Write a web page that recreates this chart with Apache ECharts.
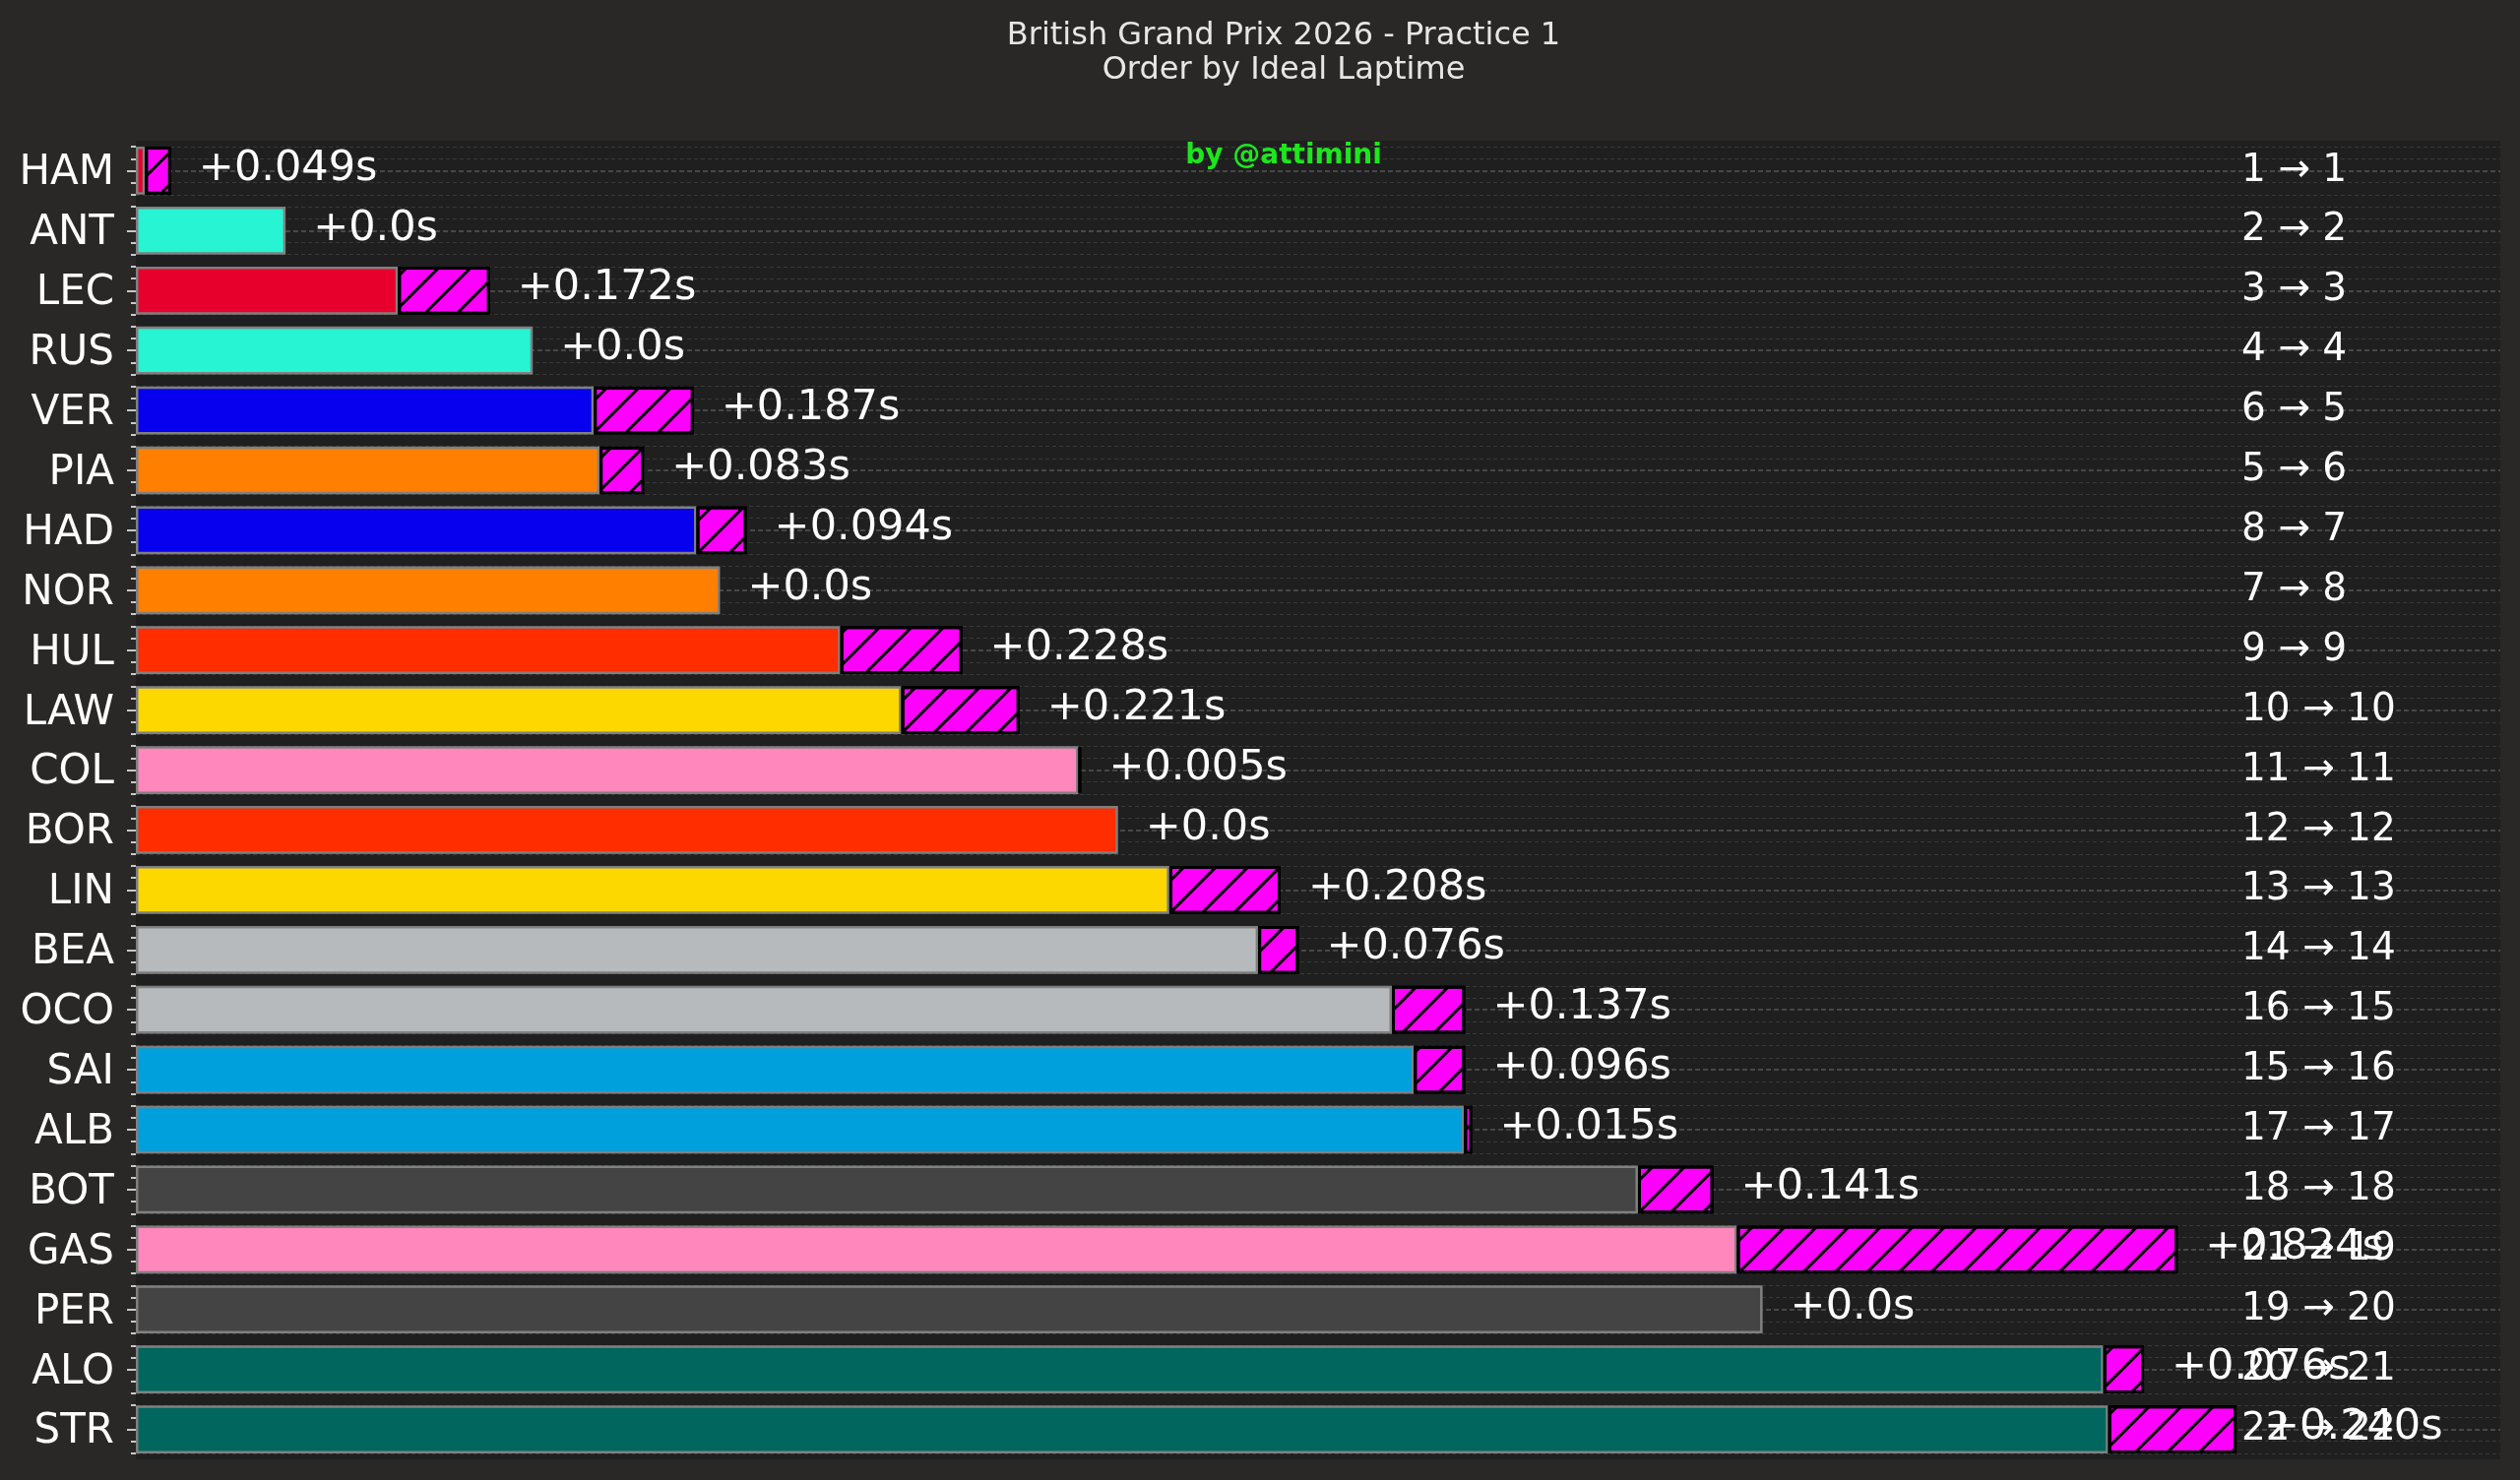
<!DOCTYPE html>
<html>
<head>
<meta charset="utf-8">
<script src="https://cdn.jsdelivr.net/npm/echarts@6/dist/echarts.min.js"></script>
<style>
html, body { margin: 0; padding: 0; background: #292827; }
#chart { width: 2560px; height: 1504px; }
</style>
</head>
<body>
<div id="chart"></div>
<script>
// drivers in order of ideal lap time
var drivers = ['HAM', 'ANT', 'LEC', 'RUS', 'VER', 'PIA', 'HAD', 'NOR', 'HUL', 'LAW', 'COL',
    'BOR', 'LIN', 'BEA', 'OCO', 'SAI', 'ALB', 'BOT', 'GAS', 'PER', 'ALO', 'STR'];
var teamColors = ['#e8002d', '#27f4d2', '#e8002d', '#27f4d2', '#0600ef', '#ff8000', '#0600ef',
    '#ff8000', '#ff2d00', '#fcd700', '#ff87bc', '#ff2d00', '#fcd700', '#b6babd', '#b6babd',
    '#00a0dd', '#00a0dd', '#444444', '#ff87bc', '#444444', '#00665e', '#00665e'];
// ideal lap (bar length, s) and gap best lap - ideal lap (s)
var idealGap = [0.017, 0.280, 0.490, 0.742, 0.856, 0.867, 1.048, 1.092, 1.317, 1.431, 1.762,
    1.836, 1.932, 2.098, 2.348, 2.389, 2.483, 2.808, 2.993, 3.041, 3.678, 3.687];
var delta = [0.049, 0.0, 0.172, 0.0, 0.187, 0.083, 0.094, 0.0, 0.228, 0.221, 0.005,
    0.0, 0.208, 0.076, 0.137, 0.096, 0.015, 0.141, 0.824, 0.0, 0.076, 0.240];
// position by best lap
var bestRank = [1, 2, 3, 4, 6, 5, 8, 7, 9, 10, 11, 12, 13, 14, 16, 15, 17, 18, 21, 19, 20, 22];

var FONT = 'DejaVu Sans';
var T = 'rgba(0,0,0,0)';
var gridTop = 143, gridBottom = 21;

var chart = echarts.init(document.getElementById('chart'));

var option = {
    backgroundColor: '#292827',
    animation: false,
    title: [
        {
            text: 'British Grand Prix 2026 - Practice 1\nOrder by Ideal Laptime',
            left: 1299,
            top: 14,
            textAlign: 'center',
            textStyle: { color: '#e6e6e6', fontSize: 32, fontWeight: 'normal', lineHeight: 35, fontFamily: FONT }
        },
        {
            text: 'by @attimini',
            left: 1299,
            top: 139,
            textAlign: 'center',
            z: 10,
            textStyle: { color: '#1ee61e', fontSize: 28, fontWeight: 'bold', lineHeight: 30, fontFamily: FONT }
        }
    ],
    grid: [
        { left: 138, right: 20, top: gridTop, bottom: gridBottom, show: true, backgroundColor: '#1f1f1f', borderWidth: 0 },
        // narrow strip for the minor ticks
        { left: 133, width: 5, top: gridTop, bottom: gridBottom, show: false }
    ],
    xAxis: [
        { gridIndex: 0, type: 'value', min: 0, max: 4.42, show: false },
        { gridIndex: 1, type: 'value', min: 0, max: 1, show: false }
    ],
    yAxis: [
        {
            gridIndex: 0,
            type: 'category',
            data: drivers,
            inverse: true,
            axisLine: { show: false },
            axisTick: { show: true, alignWithLabel: true, length: 9, lineStyle: { color: '#c8c8c8', width: 2 } },
            axisLabel: { color: '#ffffff', fontSize: 42, fontFamily: FONT, margin: 22, verticalAlign: 'top', lineHeight: 6 },
            splitLine: { show: false }
        },
        {
            gridIndex: 0,
            type: 'category',
            data: drivers,
            inverse: true,
            position: 'right',
            axisLine: { show: false },
            axisTick: { show: false },
            axisLabel: {
                inside: true,
                align: 'left',
                margin: 263,
                padding: [0, 0, 8, 0],
                color: '#ffffff',
                fontSize: 39,
                fontFamily: FONT,
                formatter: function (val, idx) { return bestRank[idx] + ' \u2192 ' + (idx + 1); }
            },
            splitLine: { show: false }
        },
        {
            // major grid through the row centres
            gridIndex: 0, type: 'value', min: -0.5, max: 21.5, interval: 0.5,
            axisLine: { show: false }, axisTick: { show: false }, axisLabel: { show: false },
            splitLine: { show: true, lineStyle: { color: [T, '#555555'], width: 1.6, type: [5, 3] } }
        },
        {
            // minor grid, every 0.2 row
            gridIndex: 0, type: 'value', min: -0.5, max: 21.5, interval: 0.1,
            axisLine: { show: false }, axisTick: { show: false }, axisLabel: { show: false },
            splitLine: { show: true, lineStyle: { color: [T, '#393939', T, '#393939', T, T, T, '#393939', T, '#393939'], width: 1.2, type: [4, 3] } }
        },
        {
            // minor ticks drawn as short lines in the strip
            gridIndex: 1, type: 'value', min: -0.5, max: 21.5, interval: 0.1,
            axisLine: { show: false }, axisTick: { show: false }, axisLabel: { show: false },
            splitLine: { show: true, lineStyle: { color: [T, '#c8c8c8', T, '#c8c8c8', T, T, T, '#c8c8c8', T, '#c8c8c8'], width: 2 } }
        }
    ],
    series: [
        {
            name: 'Ideal',
            type: 'bar',
            stack: 'lap',
            barWidth: '80%',
            xAxisIndex: 0,
            yAxisIndex: 0,
            z: 3,
            data: idealGap.map(function (v, i) {
                return { value: v, itemStyle: { color: teamColors[i] } };
            }),
            itemStyle: { borderColor: '#808080', borderWidth: 2.5 }
        },
        {
            name: 'Gap',
            type: 'bar',
            stack: 'lap',
            barWidth: '80%',
            xAxisIndex: 0,
            yAxisIndex: 0,
            z: 4,
            data: delta.map(function (v) {
                return v === 0 ? { value: v, itemStyle: { borderWidth: 0 } } : v;
            }),
            itemStyle: {
                color: '#ff00ff',
                borderColor: '#000000',
                borderWidth: 3,
                decal: {
                    symbol: 'rect',
                    symbolSize: 1,
                    color: '#000000',
                    dashArrayX: [1, 0],
                    dashArrayY: [3, 20],
                    rotation: -Math.PI / 4
                }
            },
            label: {
                show: true,
                position: 'right',
                distance: 28,
                offset: [0, -2],
                color: '#ffffff',
                fontSize: 43,
                fontFamily: FONT,
                formatter: function (p) {
                    var v = delta[p.dataIndex];
                    return v === 0 ? '+0.0s' : '+' + v.toFixed(3) + 's';
                }
            }
        }
    ]
};

chart.setOption(option);
</script>
</body>
</html>
